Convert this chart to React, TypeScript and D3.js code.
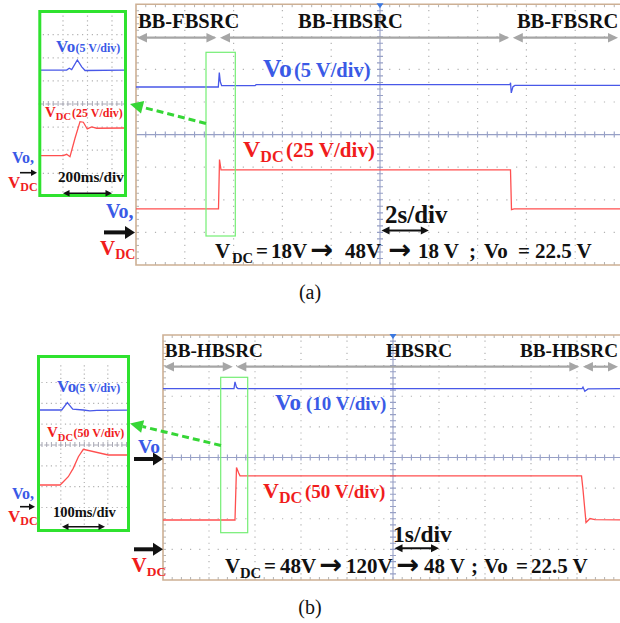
import React from "react";
import * as d3 from "d3";

const SERIF = "'Liberation Serif', 'Times New Roman', Times, serif";
const ARROW_FONT = "'DejaVu Sans', 'Liberation Sans', sans-serif";
const C = {
  blueTrace: "#4858e8",
  redTrace: "#ff4f4f",
  blueText: "#3a5ae6",
  redText: "#f01c1c",
  green: "#2fe22f",
  greenThin: "#74ee74",
  greenDash: "#36d636",
  gray: "#a6a6a6",
  dot: "#b2b2b2",
  axis: "#97a0c6",
  zoomAxis: "#a8a8b4",
  frame: "#cdb094",
  marker: "#3b78e0",
};

// ---------- (a) VDC 18 V -> 48 V -> 18 V, 2 s/div ----------
const modesA = ["BB-FBSRC", "BB-HBSRC", "BB-FBSRC"];
const modeEdgesA = [0, 3.37, 15.37, 20]; // s
const modeLabelAtA = [0.08, 6.64, 15.61]; // s
const voTA = [0, 3.373, 3.414, 3.455, 3.51, 4.88, 4.92, 15.33, 15.35, 15.38, 15.45, 15.53, 20];
const voVA = [22.3, 22.3, 24.5, 23.1, 22.5, 22.5, 22.65, 22.65, 22.95, 21.4, 22.35, 22.55, 22.55];
const vdcTA = [0, 3.381, 3.422, 3.484, 15.348, 15.389, 15.492, 20];
const vdcVA = [18, 18, 55.8, 48, 48, 17.5, 18, 18];
// zoomed step, 200 ms/div
const zVoTA = [0, 230, 251, 271, 317, 353, 380, 722];
const zVoVA = [22.5, 22.5, 22.9, 22.6, 24.7, 23.2, 22.4, 22.5];
const zVdcTA = [0, 202, 230, 257, 298, 339, 366, 398, 434, 475, 722];
const zVdcVA = [18, 18, 19.5, 16.9, 36.8, 54.8, 54.2, 46.9, 49.1, 47.7, 48];

// ---------- (b) VDC 48 V -> 120 V -> 48 V, 1 s/div ----------
const modesB = ["BB-HBSRC", "HBSRC", "BB-HBSRC"];
const modeEdgesB = [0, 1.555, 9.09, 10]; // s
const modeLabelAtB = [0.04, 4.85, 7.76]; // s
const voTB = [0, 1.543, 1.565, 1.598, 1.63, 9.11, 9.13, 9.17, 9.24, 10];
const voVB = [22.5, 22.5, 24.7, 22.9, 22.5, 22.5, 23.0, 21.6, 22.4, 22.5];
const vdcTB = [0, 1.565, 1.598, 1.643, 1.674, 9.098, 9.13, 9.196, 9.283, 9.39, 10];
const vdcVB = [48, 48, 133.7, 125, 120, 120, 97.7, 43.8, 50.3, 48.7, 48];
// zoomed step, 100 ms/div
const zVoTB = [0, 103, 127, 150, 195, 223, 253, 394];
const zVoVB = [22.5, 22.5, 24.3, 22.7, 22.5, 22.3, 22.4, 22.5];
const zVdcTB = [0, 96, 110, 131, 152, 174, 195, 301, 394];
const zVdcVB = [48, 48, 55.9, 67.9, 88, 115.9, 133.7, 120, 120];

type Pt = [number, number];
type Lin = d3.ScaleLinear<number, number>;

function tracePath(t: number[], v: number[], xs: Lin, ys: Lin): string {
  const pts: Pt[] = t.map((x, i) => [x, v[i]]);
  return d3.line<Pt>().x((d) => xs(d[0])).y((d) => ys(d[1]))(pts) ?? "";
}

function Grid(p: {
  x0: number; y0: number; dw: number; dh: number; nx: number; ny: number;
  xMax: number; vAxis: boolean; frame: boolean;
}) {
  const { x0, y0, dw, dh, nx, ny, xMax, vAxis, frame } = p;
  const right = Math.min(x0 + nx * dw, xMax);
  const bottom = y0 + ny * dh;
  const cx = x0 + (nx / 2) * dw;
  const cy = y0 + (ny / 2) * dh;
  const dots = d3.path();
  for (let j = 1; j < ny; j++) {
    if (2 * j === ny) continue;
    const y = y0 + j * dh;
    for (let k = 1; k < nx * 5; k++) {
      const x = x0 + (k * dw) / 5;
      if (x > right - 1) break;
      dots.moveTo(x - 0.6, y);
      dots.lineTo(x + 0.6, y);
    }
  }
  for (let i = 1; i < nx; i++) {
    if (vAxis && 2 * i === nx) continue;
    const x = x0 + i * dw;
    if (x > right - 1) break;
    for (let k = 1; k < ny * 5; k++) {
      const y = y0 + (k * dh) / 5;
      dots.moveTo(x, y - 0.6);
      dots.lineTo(x, y + 0.6);
    }
  }
  const axis = d3.path();
  axis.moveTo(x0, cy);
  axis.lineTo(right, cy);
  for (let k = 1; k < nx * 5; k++) {
    const x = x0 + (k * dw) / 5;
    if (x >= right) break;
    axis.moveTo(x, cy - 3);
    axis.lineTo(x, cy + 3);
  }
  if (vAxis) {
    axis.moveTo(cx, y0);
    axis.lineTo(cx, bottom);
    for (let k = 1; k < ny * 5; k++) {
      const y = y0 + (k * dh) / 5;
      axis.moveTo(cx - 3, y);
      axis.lineTo(cx + 3, y);
    }
  }
  const edge = d3.path();
  if (frame) {
    for (let k = 1; k < nx * 5; k++) {
      const x = x0 + (k * dw) / 5;
      if (x >= right) break;
      edge.moveTo(x, y0);
      edge.lineTo(x, y0 + 3);
      edge.moveTo(x, bottom);
      edge.lineTo(x, bottom - 3);
    }
    for (let k = 1; k < ny * 5; k++) {
      const y = y0 + (k * dh) / 5;
      edge.moveTo(x0, y);
      edge.lineTo(x0 + 3, y);
    }
  }
  return (
    <g>
      <path d={dots.toString()} stroke={C.dot} strokeWidth={1.2} fill="none" />
      {frame && <path d={edge.toString()} stroke={C.dot} strokeWidth={1} fill="none" />}
      <path
        d={axis.toString()}
        stroke={frame ? C.axis : C.zoomAxis}
        strokeWidth={frame ? 1.1 : 1}
        strokeDasharray={frame ? undefined : "5 2"}
        fill="none"
      />
      {frame && (
        <path
          d={`M${right + 5},${y0}H${x0}V${bottom}H${right + 5}`}
          stroke={C.frame}
          strokeWidth={1.6}
          fill="none"
        />
      )}
      {frame && vAxis && (
        <path d={`M${cx - 3.5},${y0 - 1}L${cx + 3.5},${y0 - 1}L${cx},${y0 + 4}Z`} fill={C.marker} />
      )}
    </g>
  );
}

function HArrow(p: {
  x1: number; x2: number; y: number; color: string; sw: number; hl: number; hw: number;
  start?: boolean; end?: boolean;
}) {
  const { x1, x2, y, color, sw, hl, hw } = p;
  const start = p.start !== false;
  const end = p.end !== false;
  const a = start ? x1 + hl * 0.8 : x1;
  const b = end ? x2 - hl * 0.8 : x2;
  return (
    <g fill={color}>
      <line x1={a} x2={b} y1={y} y2={y} stroke={color} strokeWidth={sw} />
      {start && <path d={`M${x1},${y}L${x1 + hl},${y - hw}L${x1 + hl},${y + hw}Z`} />}
      {end && <path d={`M${x2},${y}L${x2 - hl},${y - hw}L${x2 - hl},${y + hw}Z`} />}
    </g>
  );
}

function DashArrow(p: { x1: number; y1: number; x2: number; y2: number }) {
  const { x1, y1, x2, y2 } = p;
  const ang = Math.atan2(y2 - y1, x2 - x1);
  const hl = 13;
  const hw = 6.5;
  const bx = x2 - hl * Math.cos(ang);
  const by = y2 - hl * Math.sin(ang);
  const nx = -Math.sin(ang);
  const ny = Math.cos(ang);
  return (
    <g>
      <line x1={x1} y1={y1} x2={bx} y2={by} stroke={C.greenDash} strokeWidth={3} strokeDasharray="7 4" />
      <path d={`M${x2},${y2}L${bx + nx * hw},${by + ny * hw}L${bx - nx * hw},${by - ny * hw}Z`} fill={C.greenDash} />
    </g>
  );
}

function ModeBar(p: { names: string[]; edges: number[]; labelAt: number[]; xs: Lin; yText: number; yArrow: number; size: number; xMax: number }) {
  const { names, edges, labelAt, xs, yText, yArrow, size, xMax } = p;
  return (
    <g>
      {names.map((n, i) => (
        <text key={"t" + i} x={xs(labelAt[i])} y={yText} fontFamily={SERIF} fontWeight="bold" fontSize={size} fill="#111">
          {n}
        </text>
      ))}
      {names.map((n, i) => {
        const a = xs(edges[i]) + (i === 0 ? 1 : 1.8);
        const b = Math.min(xs(edges[i + 1]) - (i === names.length - 1 ? 0 : 1.8), xMax - 2);
        return <HArrow key={"a" + i} x1={a} x2={b} y={yArrow} color={C.gray} sw={2.2} hl={10} hw={4.8} />;
      })}
    </g>
  );
}

function Vdc(p: { x: number; y: number; f: number; fs: number; dy: number; rest?: string; restSize?: number; restX?: number }) {
  return (
    <text x={p.x} y={p.y} fill={C.redText} fontFamily={SERIF} fontWeight="bold" fontSize={p.f}>
      V
      <tspan fontSize={p.fs} dy={p.dy}>DC</tspan>
      {p.rest && (
        <tspan fontSize={p.restSize} dy={-p.dy} x={p.restX}>
          {p.rest}
        </tspan>
      )}
    </text>
  );
}

function Vo(p: { x: number; y: number; f: number; rest?: string; restSize?: number; restX?: number }) {
  return (
    <text x={p.x} y={p.y} fill={C.blueText} fontFamily={SERIF} fontWeight="bold" fontSize={p.f}>
      Vo
      {p.rest && (
        <tspan fontSize={p.restSize} x={p.restX}>
          {p.rest}
        </tspan>
      )}
    </text>
  );
}

function Formula(p: { y: number; f: number; parts: [string, number][]; subX: number }) {
  const [v, ...rest] = p.parts;
  return (
    <g fontWeight="bold" fill="#111">
      <text x={v[1]} y={p.y} fontSize={p.f} fontFamily={SERIF}>{v[0]}</text>
      <text x={p.subX} y={p.y + 4.5} fontSize={p.f * 0.7} fontFamily={SERIF}>DC</text>
      {rest.map(([s, x], i) =>
        s === "\u2192" ? (
          <text key={i} x={x} y={p.y + 0.5} fontSize={p.f * 1.3} fontFamily={ARROW_FONT}>{s}</text>
        ) : (
          <text key={i} x={x} y={p.y} fontSize={p.f} fontFamily={SERIF}>{s}</text>
        )
      )}
    </g>
  );
}

export default function App() {
  // ---- panel (a) main scope ----
  const aX0 = 136, aY0 = 4.2, aDW = 48.8, aDH = 32.6;
  const xA = d3.scaleLinear().domain([0, 20]).range([aX0, aX0 + 10 * aDW]);
  const divA = d3.scaleLinear().domain([-4, 4]).range([aY0 + 8 * aDH, aY0]);
  const yVoA = d3.scaleLinear().domain([0, 5]).range([divA(-3), divA(-2)]);
  const yDcA = d3.scaleLinear().domain([0, 25]).range([divA(-3), divA(-2)]);
  // inset (a)
  const zxA = d3.scaleLinear().domain([0, 200]).range([38.5, 63]);
  const zVoYA = d3.scaleLinear().domain([0, 5]).range([174, 174 - 23.1]);
  const zDcYA = d3.scaleLinear().domain([0, 25]).range([172.3, 172.3 - 23.1]);

  // ---- panel (b) main scope ----
  const bX0 = 163, bY0 = 335, bDW = 46, bDH = 30.625;
  const xB = d3.scaleLinear().domain([0, 10]).range([bX0, bX0 + 10 * bDW]);
  const divB = d3.scaleLinear().domain([-4, 4]).range([bY0 + 8 * bDH, bY0]);
  const yVoB = d3.scaleLinear().domain([0, 10]).range([divB(0), divB(1)]);
  const yDcB = d3.scaleLinear().domain([0, 50]).range([divB(-3), divB(-2)]);
  // inset (b)
  const zxB = d3.scaleLinear().domain([0, 100]).range([37.5, 61]);
  const zVoYB = d3.scaleLinear().domain([0, 5]).range([503.75, 503.75 - 20.83]);
  const zDcYB = d3.scaleLinear().domain([0, 50]).range([505, 505 - 20.83]);

  return (
    <svg width={620} height={623} style={{ position: "absolute", left: 0, top: 0, background: "#fff" }}>
      <defs>
        <clipPath id="clipA"><rect x={aX0} y={aY0} width={620 - aX0} height={8 * aDH} /></clipPath>
        <clipPath id="clipB"><rect x={bX0} y={bY0} width={620 - bX0} height={8 * bDH} /></clipPath>
        <clipPath id="clipZA"><rect x={41} y={13} width={83} height={181} /></clipPath>
        <clipPath id="clipZB"><rect x={40} y={358} width={87} height={171} /></clipPath>
      </defs>
      <rect width={620} height={623} fill="#fff" />

      {/* ================= (a) ================= */}
      <Grid x0={aX0} y0={aY0} dw={aDW} dh={aDH} nx={10} ny={8} xMax={620} vAxis={true} frame={true} />
      <ModeBar names={modesA} edges={modeEdgesA} labelAt={modeLabelAtA} xs={xA} yText={28.3} yArrow={37.7} size={20.5} xMax={620} />
      <g clipPath="url(#clipA)" fill="none" strokeWidth={1.3}>
        <path d={tracePath(voTA, voVA, xA, yVoA)} stroke={C.blueTrace} />
        <path d={tracePath(vdcTA, vdcVA, xA, yDcA)} stroke={C.redTrace} />
      </g>
      <rect x={206} y={52.3} width={29.3} height={183.7} fill="none" stroke={C.greenThin} strokeWidth={1.2} />
      <Vo x={263} y={76.5} f={25.5} rest="(5 V/div)" restSize={20.5} restX={294} />
      <Vdc x={243} y={156.7} f={24} fs={16} dy={5} rest="(25 V/div)" restSize={21} restX={286} />
      <text x={385} y={223} fontFamily={SERIF} fontWeight="bold" fontSize={25} fill="#111">2s/div</text>
      <HArrow x1={xA(10) + 1.5} x2={xA(12)} y={230.5} color="#111" sw={2} hl={8} hw={4} />
      <Formula
        y={258.3}
        f={21}
        subX={232}
        parts={[["V", 215], ["=", 256], ["18V", 271], ["\u2192", 310], ["48V", 345], ["\u2192", 388], ["18 V", 418], [";", 469], ["Vo", 484], ["=", 518], ["22.5 V", 535]]}
      />
      {/* channel reference markers */}
      <Vo x={106} y={218} f={20} rest="," />
      <HArrow x1={104} x2={135} y={232.4} color="#111" sw={4} hl={10} hw={6.5} start={false} />
      <Vdc x={100} y={255} f={21} fs={14} dy={4} />

      {/* inset (a) */}
      <Grid x0={38.5} y0={104 - 4 * 23.1} dw={24.5} dh={23.1} nx={4} ny={8} xMax={125} vAxis={false} frame={false} />
      <g clipPath="url(#clipZA)" fill="none" strokeWidth={1.3}>
        <path d={tracePath(zVoTA, zVoVA, zxA, zVoYA)} stroke={C.blueTrace} />
        <path d={tracePath(zVdcTA, zVdcVA, zxA, zDcYA)} stroke={C.redTrace} />
      </g>
      <rect x={39.8} y={11.5} width={85.7} height={184} fill="none" stroke={C.green} strokeWidth={3} />
      <Vo x={56} y={51.7} f={17} rest="(5 V/div)" restSize={12} restX={75.5} />
      <Vdc x={45} y={116.7} f={15} fs={10.5} dy={3.5} rest="(25 V/div)" restSize={12} restX={72} />
      <text x={58} y={181.7} fontFamily={SERIF} fontWeight="bold" fontSize={15.2} fill="#111">200ms/div</text>
      <HArrow x1={63} x2={112} y={193.3} color="#111" sw={1.6} hl={6.5} hw={3.3} />
      <Vo x={12} y={163} f={16} rest="," />
      <HArrow x1={20} x2={37} y={172.7} color="#111" sw={1.6} hl={6} hw={3.3} start={false} />
      <Vdc x={8} y={188} f={17} fs={12} dy={3} />
      <DashArrow x1={206} y1={123.5} x2={130} y2={104} />

      <text x={310} y={299} textAnchor="middle" fontFamily={SERIF} fontSize={20} fill="#111">(a)</text>

      {/* ================= (b) ================= */}
      <Grid x0={bX0} y0={bY0} dw={bDW} dh={bDH} nx={10} ny={8} xMax={620} vAxis={true} frame={true} />
      <ModeBar names={modesB} edges={modeEdgesB} labelAt={modeLabelAtB} xs={xB} yText={356.8} yArrow={366.7} size={19.2} xMax={620} />
      <g clipPath="url(#clipB)" fill="none" strokeWidth={1.3}>
        <path d={tracePath(voTB, voVB, xB, yVoB)} stroke={C.blueTrace} />
        <path d={tracePath(vdcTB, vdcVB, xB, yDcB)} stroke={C.redTrace} />
      </g>
      <rect x={220.7} y={377.3} width={27} height={155.4} fill="none" stroke={C.greenThin} strokeWidth={1.2} />
      <Vo x={275} y={410} f={23} rest="(10 V/div)" restSize={19} restX={306} />
      <Vdc x={263} y={498} f={22} fs={16} dy={5} rest="(50 V/div)" restSize={19} restX={305} />
      <text x={393} y={541.7} fontFamily={SERIF} fontWeight="bold" fontSize={23.5} fill="#111">1s/div</text>
      <HArrow x1={xB(5) + 1.5} x2={xB(6)} y={548.3} color="#111" sw={2} hl={8} hw={4} />
      <Formula
        y={573.3}
        f={21}
        subX={240}
        parts={[["V", 225], ["=", 264], ["48V", 280], ["\u2192", 319], ["120V", 346], ["\u2192", 396], ["48 V", 424], [";", 471], ["Vo", 484], ["=", 516], ["22.5 V", 531]]}
      />
      <Vo x={138} y={452.7} f={19.5} />
      <HArrow x1={134} x2={163} y={459} color="#111" sw={4} hl={10} hw={6.5} start={false} />
      <HArrow x1={134} x2={163} y={549.3} color="#111" sw={4} hl={10} hw={6.5} start={false} />
      <Vdc x={131.5} y={571.7} f={21} fs={13.5} dy={4} />

      {/* inset (b) */}
      <Grid x0={37.3} y0={445 - 4 * 20.83} dw={23.5} dh={20.83} nx={4} ny={8} xMax={128} vAxis={false} frame={false} />
      <g clipPath="url(#clipZB)" fill="none" strokeWidth={1.3}>
        <path d={tracePath(zVoTB, zVoVB, zxB, zVoYB)} stroke={C.blueTrace} />
        <path d={tracePath(zVdcTB, zVdcVB, zxB, zDcYB)} stroke={C.redTrace} />
      </g>
      <rect x={38.5} y={356.5} width={90} height={174} fill="none" stroke={C.green} strokeWidth={3} />
      <Vo x={57} y={391.7} f={17} rest="(5 V/div)" restSize={12} restX={75.5} />
      <Vdc x={47} y={437} f={15} fs={10.5} dy={3.5} rest="(50 V/div)" restSize={12} restX={73.5} />
      <text x={53} y={516.7} fontFamily={SERIF} fontWeight="bold" fontSize={14.5} fill="#111">100ms/div</text>
      <HArrow x1={62} x2={105} y={526.7} color="#111" sw={1.6} hl={6.5} hw={3.3} />
      <Vo x={12} y={499} f={16} rest="," />
      <HArrow x1={20} x2={35} y={506.7} color="#111" sw={1.6} hl={6} hw={3.3} start={false} />
      <Vdc x={8} y={521.7} f={17} fs={12} dy={3} />
      <DashArrow x1={221} y1={445.5} x2={130} y2={423.5} />

      <text x={310} y={614} textAnchor="middle" fontFamily={SERIF} fontSize={20} fill="#111">(b)</text>
    </svg>
  );
}
